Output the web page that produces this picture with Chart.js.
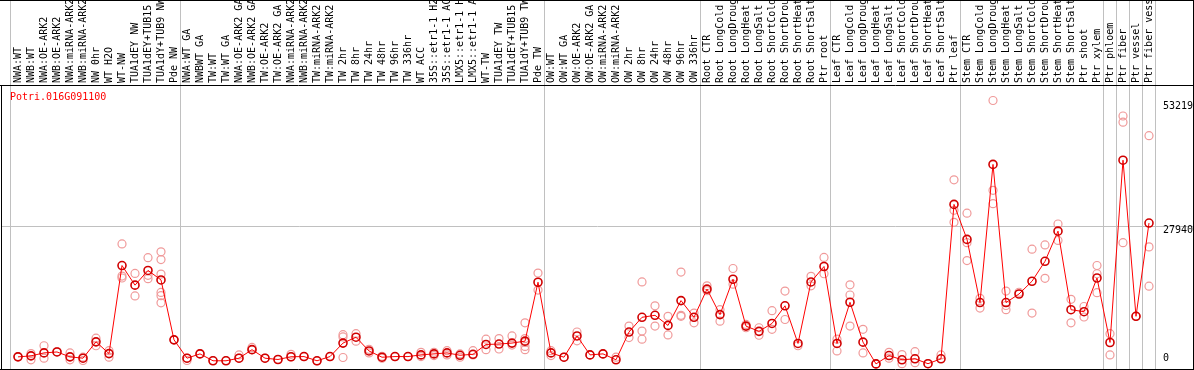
<!DOCTYPE html>
<html>
<head>
<meta charset="utf-8">
<script src="https://cdn.jsdelivr.net/npm/chart.js@4.4.1/dist/chart.umd.min.js"></script>
<style>
  html, body { margin: 0; padding: 0; background: #fff; }
  #wrap { width: 1194px; height: 370px; }
</style>
</head>
<body>
<div id="wrap"><canvas id="exprChart" width="1194" height="370"></canvas></div>
<script>
const geneName = "Potri.016G091100";

const categories = [
    "NWA:WT", "NWB:WT", "NWA:OE-ARK2", "NWB:OE-ARK2", "NWA:miRNA-ARK2", "NWB:miRNA-ARK2", "NW 0hr", "WT H2O",
    "WT-NW", "TUA1dEY NW", "TUA1dEY+TUB15 NW", "TUA1dY+TUB9 NW", "Pde NW",
    "NWA:WT GA", "NWBWT GA", "TW:WT", "TW:WT GA", "NWA:OE-ARK2 GA", "NWB:OE-ARK2 GA", "TW:OE-ARK2", "TW:OE-ARK2 GA",
    "NWA:miRNA-ARK2", "NWB:miRNA-ARK2", "TW:miRNA-ARK2", "TW:miRNA-ARK2", "TW 2hr", "TW 8hr", "TW 24hr", "TW 48hr",
    "TW 96hr", "TW 336hr", "WT ACC", "35S::etr1-1 H2O", "35S::etr1-1 ACC", "LMX5::etr1-1 H2O", "LMX5::etr1-1 ACC",
    "WT-TW", "TUA1dEY TW", "TUA1dEY+TUB15 TW", "TUA1dY+TUB9 TW", "Pde TW",
    "OW:WT", "OW:WT GA", "OW:OE-ARK2", "OW:OE-ARK2 GA", "OW:miRNA-ARK2", "OW:miRNA-ARK2", "OW 2hr", "OW 8hr",
    "OW 24hr", "OW 48hr", "OW 96hr", "OW 336hr",
    "Root CTR", "Root LongCold", "Root LongDrought", "Root LongHeat", "Root LongSalt", "Root ShortCold",
    "Root ShortDrought", "Root ShortHeat", "Root ShortSalt", "Ptr root",
    "Leaf CTR", "Leaf LongCold", "Leaf LongDrought", "Leaf LongHeat", "Leaf LongSalt", "Leaf ShortCold",
    "Leaf ShortDrought", "Leaf ShortHeat", "Leaf ShortSalt", "Ptr leaf",
    "Stem CTR", "Stem LongCold", "Stem LongDrought", "Stem LongHeat", "Stem LongSalt", "Stem ShortCold",
    "Stem ShortDrought", "Stem ShortHeat", "Stem ShortSalt", "Ptr shoot", "Ptr xylem",
    "Ptr phloem", "Ptr fiber", "Ptr vessel", "Ptr fiber vessel"
];

// index of the first category of each sample group
const groupStarts = [0, 13, 41, 53, 63, 73, 84, 85, 86, 87];

const meanValues = [
    1520, 1720, 2320, 2510, 1520, 1250, 4550, 2180, 19940, 15980,
    18950, 17030, 4950, 1250, 2120, 730, 730, 1250, 2970, 1250,
    990, 1540, 1580, 730, 1580, 4300, 5480, 2710, 1450, 1580,
    1580, 1920, 2120, 2320, 1840, 2040, 4020, 4100, 4300, 4690,
    16570, 2320, 1450, 5740, 1920, 2120, 930, 6530, 9500, 9900,
    7860, 12870, 9500, 15190, 10040, 17170, 7720, 6670, 8260, 11820,
    4220, 16630, 19740, 4220, 12530, 4490, 100, 1780, 930, 1130,
    140, 1130, 32270, 25210, 12470, 40330, 12470, 14200, 16770, 20790,
    26870, 11030, 10630, 17420, 4420, 41180, 9700, 28510
];

const replicateValues = [
    [1580], [2180, 930], [3760, 1250], [2570], [2320, 930], [1450, 790], [5290, 3760], [2770, 1450],
    [24290, 17820, 17420], [18350, 13800], [21520, 17960, 17290], [22710, 21130, 18220, 14510, 13860, 12410], [4950],
    [1250, 790], [2180], [790], [790], [1920, 1250], [3430, 2970], [1250], [990],
    [2040, 1520], [1580], [730], [1580], [6000, 5540, 1390], [6200, 4690], [3030, 2320], [1640, 1250],
    [1580], [1580], [2440, 1580], [2440, 1780], [2770, 1920], [2120, 1450], [2770, 1920],
    [5090, 2970], [5210, 3110], [5740, 3900], [8380, 5210, 4420, 3620, 2970], [18410, 14990],
    [2770, 1780], [1450], [6530, 4750], [1920], [2120], [1450], [7720, 5410], [16630, 6730, 5090],
    [11820, 7720], [9700, 5940], [18610, 9900, 9700], [10360, 8380],
    [15840, 14850], [11030, 8710], [19340, 16170], [8060, 7390], [7390, 5880], [10830, 7070],
    [14790, 9050], [3760], [17760, 15840], [21580, 18280],
    [5090, 2710], [16040, 14000, 7720], [7070, 2320], [100], [2440, 1250], [1980, 140],
    [2570, 340], [140], [1920], [37220, 31090, 28650],
    [30490, 24550, 20930], [13330, 11350], [53219, 35110, 32410], [14790, 11880, 11030], [14550], [23230, 10360],
    [24100, 17360], [28310, 25010], [13130, 8380], [11680, 9560], [19940, 18280, 14460],
    [6200, 1920], [50090, 48850, 24550], [9700], [46130, 23700, 15780]
];

const yTickValues = [0, 27940, 53219];

// x is the category index on a linear scale
const meanPoints = meanValues.map((v, i) => ({ x: i, y: v }));
const replicatePoints = [];
replicateValues.forEach((vals, i) => {
    vals.forEach(v => replicatePoints.push({ x: i, y: v }));
});

const MONO = "10px 'DejaVu Sans Mono', 'Liberation Mono', monospace";

function hline(ctx, x0, x1, y) {
    ctx.beginPath(); ctx.moveTo(x0, y); ctx.lineTo(x1, y); ctx.stroke();
}
function vline(ctx, x, y0, y1) {
    ctx.beginPath(); ctx.moveTo(x, y0); ctx.lineTo(x, y1); ctx.stroke();
}

const framePlugin = {
    id: 'frame',
    beforeDatasetsDraw(chart) {
        const ctx = chart.ctx;
        const xs = chart.scales.x, ys = chart.scales.y;
        const W = chart.width, H = chart.height;
        const headerBottom = 85.5;

        ctx.save();
        ctx.lineWidth = 1;

        // grey group separators
        ctx.strokeStyle = '#c0c0c0';
        groupStarts.concat([categories.length]).forEach(k => {
            const px = Math.max(10.5, Math.floor(xs.getPixelForValue(k - 0.5) - 1) + 0.5);
            vline(ctx, k === 0 ? 10.5 : Math.floor(xs.getPixelForValue(k - 0.5)) + 0.5, 0, H - 1);
        });
        const gy = Math.round(ys.getPixelForValue(yTickValues[1])) + 0.5;
        hline(ctx, 2, W - 1, gy);

        // black frame
        ctx.strokeStyle = '#000';
        hline(ctx, 0, W, 0.5);
        hline(ctx, 0, W, headerBottom);
        hline(ctx, 0, W, H - 0.5);
        vline(ctx, 1.5, headerBottom, H);
        vline(ctx, W - 0.5, 0, H);

        // category labels in the header
        ctx.fillStyle = '#000';
        ctx.font = MONO;
        ctx.textAlign = 'left';
        ctx.textBaseline = 'middle';
        categories.forEach((label, i) => {
            ctx.save();
            ctx.translate(Math.round(xs.getPixelForValue(i)) + 0.5, 83);
            ctx.rotate(-Math.PI / 2);
            ctx.fillText(label, 0, 0);
            ctx.restore();
        });

        // gene name
        ctx.fillStyle = '#ff0000';
        ctx.fillText(geneName, 10, 97);

        // value labels on the right
        ctx.fillStyle = '#000';
        const lx = xs.right + 7.5;
        ctx.textBaseline = 'top';
        ctx.fillText(String(yTickValues[2]), lx, ys.getPixelForValue(yTickValues[2]) + 1);
        ctx.fillText(String(yTickValues[1]), lx, ys.getPixelForValue(yTickValues[1]));
        ctx.textBaseline = 'bottom';
        ctx.fillText(String(yTickValues[0]), lx, ys.getPixelForValue(yTickValues[0]) - 1);
        ctx.restore();
    }
};

new Chart(document.getElementById('exprChart').getContext('2d'), {
    type: 'line',
    plugins: [framePlugin],
    data: {
        datasets: [
            {
                label: 'mean',
                data: meanPoints,
                borderColor: '#ff0000',
                borderWidth: 1,
                tension: 0,
                pointRadius: 4,
                pointBorderWidth: 1.6,
                pointBorderColor: '#d00000',
                pointBackgroundColor: 'rgba(0,0,0,0)',
                clip: false
            },
            {
                label: 'replicates',
                data: replicatePoints,
                showLine: false,
                pointRadius: 4,
                pointBorderWidth: 1.2,
                pointBorderColor: '#f09a9a',
                pointBackgroundColor: 'rgba(0,0,0,0)',
                clip: false
            }
        ]
    },
    options: {
        responsive: false,
        devicePixelRatio: 1,
        animation: false,
        events: [],
        layout: {
            padding: { left: 11.5, right: 38.5, top: 100.5, bottom: 1 }
        },
        scales: {
            x: {
                type: 'linear',
                min: -0.5,
                max: categories.length - 0.5,
                display: false
            },
            y: {
                min: 0,
                max: 53219,
                display: false
            }
        },
        plugins: {
            legend: { display: false },
            tooltip: { enabled: false },
            title: { display: false }
        }
    }
});
</script>
</body>
</html>
